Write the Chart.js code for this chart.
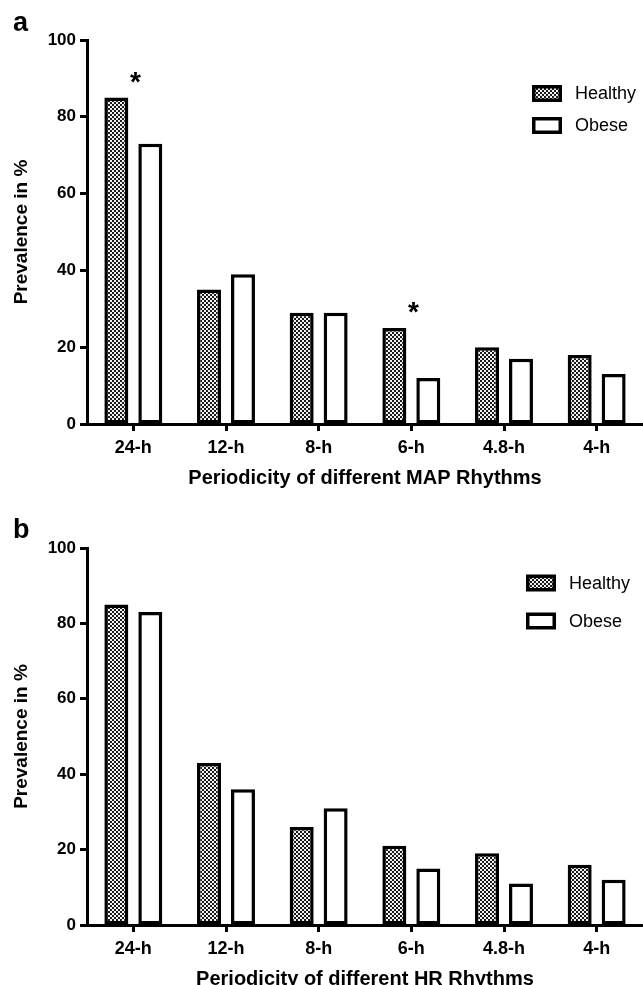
<!DOCTYPE html>
<html>
<head>
<meta charset="utf-8">
<script src="https://cdn.jsdelivr.net/npm/chart.js@4.4.0/dist/chart.umd.min.js"></script>
<style>
  body { margin: 0; background: #fff; width: 643px; height: 985px; overflow: hidden; position: relative; }
  .panel { position: absolute; left: 0; width: 643px; }
  .tag { position: absolute; left: 13px; font: bold 27px "Liberation Sans", Arial, sans-serif; color: #000; line-height: 30px; }
</style>
</head>
<body>
<div class="panel" style="top:0;height:495px"><canvas id="chartA"></canvas></div>
<div class="panel" style="top:495px;height:501px"><canvas id="chartB"></canvas></div>
<div class="tag" style="top:7px">a</div>
<div class="tag" style="top:514px">b</div>
<script>
// categories and values
var periods = ['24-h', '12-h', '8-h', '6-h', '4.8-h', '4-h'];
var yTicks = [0, 20, 40, 60, 80, 100];

var mapHealthy = [85, 35, 29, 25, 20, 18];
var mapObese   = [73, 39, 29, 12, 17, 13];
var mapSignif  = ['*', '', '', '*', '', ''];

var hrHealthy = [85, 43, 26, 21, 19, 16];
var hrObese   = [83, 36, 31, 15, 11, 12];
var hrSignif  = ['', '', '', '', '', ''];

var FONT = '"Liberation Sans", Arial, sans-serif';

// checkered fill of the Healthy bars
function makePattern() {
  var c = document.createElement('canvas');
  c.width = 4; c.height = 4;
  var g = c.getContext('2d');
  g.fillStyle = '#f2f2f2';
  g.fillRect(0, 0, 4, 4);
  g.fillStyle = '#1a1a1a';
  g.fillRect(0, 0, 2, 2);
  g.fillRect(2, 2, 2, 2);
  return g.createPattern(c, 'repeat');
}
var checker = makePattern();

// asterisks above the significant groups
var starPlugin = {
  id: 'stars',
  afterDatasetsDraw: function(chart, args, opts) {
    var ctx = chart.ctx;
    var xs = chart.scales.x, ys = chart.scales.y;
    var ds = chart.data.datasets;
    ctx.save();
    ctx.fillStyle = '#000';
    ctx.font = 'bold 28px ' + FONT;
    ctx.textAlign = 'center';
    ctx.textBaseline = 'alphabetic';
    opts.marks.forEach(function(m, i) {
      if (!m) return;
      var top = Math.max(ds[0].data[i], ds[1].data[i]);
      ctx.fillText(m, xs.getPixelForValue(i) + 2, ys.getPixelForValue(top) - 7);
    });
    ctx.restore();
  }
};

// legend box inside the plot, top right
var boxLegend = {
  id: 'boxLegend',
  afterDraw: function(chart, args, opts) {
    var ctx = chart.ctx;
    ctx.save();
    chart.data.datasets.forEach(function(d, i) {
      var y = opts.y + i * opts.gap;
      ctx.fillStyle = '#000';
      ctx.fillRect(opts.x, y - 8.5, 30, 17);
      ctx.fillStyle = d.backgroundColor;
      ctx.fillRect(opts.x + 3.5, y - 5, 23, 10);
      ctx.fillStyle = '#000';
      ctx.font = '18px ' + FONT;
      ctx.textAlign = 'left';
      ctx.textBaseline = 'middle';
      ctx.fillText(d.label, opts.x + 43, y + 1);
    });
    ctx.restore();
  }
};

function makeChart(id, healthy, obese, marks, xTitle, topPad, legend) {
  return new Chart(document.getElementById(id), {
    type: 'bar',
    data: {
      labels: periods,
      datasets: [{
        label: 'Healthy',
        data: healthy,
        backgroundColor: checker,
        borderColor: '#000',
        borderWidth: 3.5,
        borderSkipped: false,
        categoryPercentage: 0.733,
        barPercentage: 0.706
      }, {
        label: 'Obese',
        data: obese,
        backgroundColor: '#fff',
        borderColor: '#000',
        borderWidth: 3.5,
        borderSkipped: false,
        categoryPercentage: 0.733,
        barPercentage: 0.706
      }]
    },
    options: {
      responsive: true,
      maintainAspectRatio: false,
      animation: false,
      layout: { padding: { top: topPad, left: 0, right: 0, bottom: 0 } },
      plugins: {
        legend: { display: false },
        tooltip: { enabled: false },
        stars: { marks: marks },
        boxLegend: legend
      },
      scales: {
        x: {
          grid: { drawOnChartArea: false, offset: false, tickLength: 7, tickColor: '#000', tickWidth: 3 },
          border: { color: '#000', width: 3 },
          ticks: { color: '#000', font: { family: FONT, size: 18, weight: 'bold' }, padding: 6, maxRotation: 0 },
          title: { display: true, text: xTitle, color: '#000', font: { family: FONT, size: 20, weight: 'bold' }, padding: { top: 0, bottom: 5 } },
          afterFit: function(s) { s.height = 71; }
        },
        y: {
          min: 0,
          max: 100,
          afterBuildTicks: function(s) { s.ticks = yTicks.map(function(v) { return { value: v }; }); },
          grid: { drawOnChartArea: false, tickLength: 7, tickColor: '#000', tickWidth: 3 },
          border: { color: '#000', width: 3 },
          ticks: { color: '#000', font: { family: FONT, size: 17, weight: 'bold' }, padding: 4 },
          title: { display: true, text: 'Prevalence in %', color: '#000', font: { family: FONT, size: 19, weight: 'bold' }, padding: { top: 10, bottom: 0 } },
          afterFit: function(s) { s.width = 87; }
        }
      }
    },
    plugins: [starPlugin, boxLegend]
  });
}

makeChart('chartA', mapHealthy, mapObese, mapSignif, 'Periodicity of different MAP Rhythms', 40, { x: 532, y: 93.5, gap: 32 });
makeChart('chartB', hrHealthy, hrObese, hrSignif, 'Periodicity of different HR Rhythms', 53, { x: 526, y: 88, gap: 38 });
</script>
</body>
</html>
